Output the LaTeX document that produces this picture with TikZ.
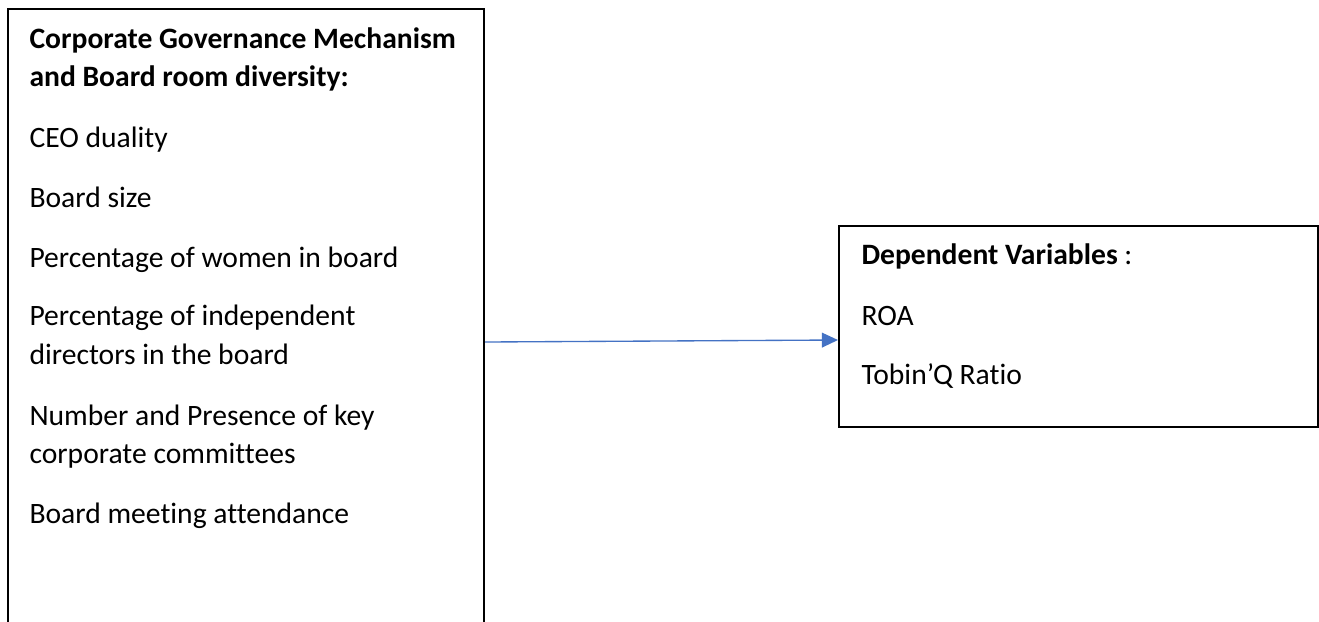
\documentclass[tikz,border=0pt]{standalone}
\usepackage{fontspec}
\setmainfont{Carlito}[Ligatures={NoCommon}]
\usetikzlibrary{arrows.meta,fit}
\definecolor{arrowblue}{HTML}{4472C4}
\begin{document}
\begin{tikzpicture}[x=0.3717pt,y=-0.3717pt,
  box/.style={draw=black,line width=0.75pt,inner sep=0pt},
  txt/.style={anchor=base west,inner sep=0pt,font=\fontsize{11}{14.5}\selectfont},
  link/.style={draw=arrowblue,line width=0.5pt,-{Triangle[length=6pt,width=5.5pt]}}]
\useasboundingbox (0,0) rectangle (1319,621);
\clip (0,0) rectangle (1319,621);
\fill[white] (0,0) rectangle (1319,621);
% boxes
\node[box,fit={(8,9)(484,680)}] (gov) {};
\node[box,fit={(839,226)(1318,427)}] (dep) {};
% left texts
\node[txt] (t1) at (29,48) {\bfseries Corporate Governance Mechanism};
\node[txt] (t2) at (29,86) {\bfseries and Board room diversity:};
\node[txt] (t3) at (29,147) {CEO duality};
\node[txt] (t4) at (29,207) {Board size};
\node[txt] (t5) at (29,267) {Percentage of women in board};
\node[txt] (t6) at (29,325) {Percentage of independent};
\node[txt] (t7) at (29,364) {directors in the board};
\node[txt] (t8) at (29,425) {Number and Presence of key};
\node[txt] (t9) at (29,463) {corporate committees};
\node[txt] (t10) at (29,523) {Board meeting attendance};
% right texts
\node[txt] (r1) at (861,264) {\textbf{Dependent Variables} :};
\node[txt] (r2) at (861,325) {ROA};
\node[txt] (r3) at (861,384) {Tobin’Q Ratio};
% arrow
\draw[link] (gov.east |- 0,342) -- (dep.west |- 0,340);
\end{tikzpicture}
\end{document}
